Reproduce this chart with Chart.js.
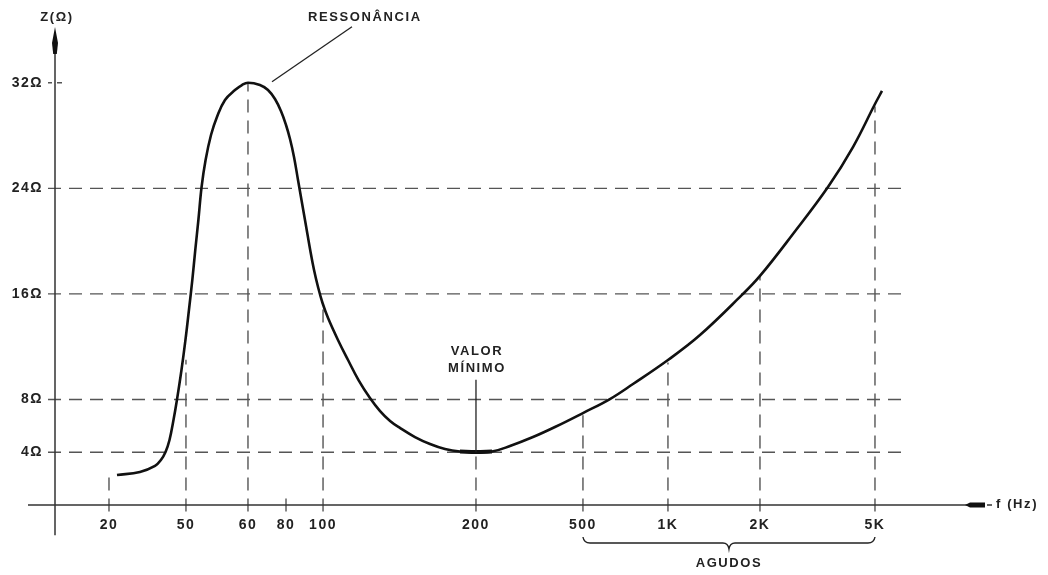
<!DOCTYPE html>
<html>
<head>
<meta charset="utf-8">
<script src="https://cdn.jsdelivr.net/npm/chart.js@4.4.1/dist/chart.umd.min.js"></script>
<style>
  html, body { margin: 0; padding: 0; background: #fff; }
  #wrap { width: 1048px; height: 575px; }
</style>
</head>
<body>
<div id="wrap"><canvas id="zChart"></canvas></div>
<script>
// frequency axis ticks (Hz) and their labels
const freqTicks = [20, 50, 60, 80, 100, 200, 500, 1000, 2000, 5000];
const freqLabels = ['20', '50', '60', '80', '100', '200', '500', '1K', '2K', '5K'];

// impedance axis ticks (ohm)
const zTicks = [4, 8, 16, 24, 32];
const zLabels = ['4Ω', '8Ω', '16Ω', '24Ω', '32Ω'];

// impedance curve
const curveFreq = [22.0, 28.9, 34.6, 37.1, 39.2, 41.1, 43.1, 44.9, 47.4, 49.7,
    50.44, 50.94, 51.39, 51.86, 52.35, 52.97, 53.82, 54.77, 56.08, 57.75, 58.95, 60,
    65.7, 69.8, 73.6, 77.0, 80, 81.95, 83.95, 86.0, 88.1, 90.26, 92.46, 94.72, 97.03,
    99.7, 102.3, 107.0, 112.0, 117.45, 123.7, 129.5, 135.5, 141.7, 151.7, 162.4, 173.8, 186, 200,
    229.4, 267.6, 325.9, 393.4, 500, 623, 752, 1000, 1273, 1746, 2000, 2601, 3438, 4196, 5000, 5287];
const curveZ = [2.27, 2.5, 2.96, 3.41, 4.02, 4.93, 6.44, 7.96, 10.23, 12.51,
    14.78, 17.05, 19.33, 21.6, 24.1, 26.15, 28.04, 29.41, 30.7, 31.45, 31.83, 32.0,
    31.83, 31.45, 30.77, 29.86, 28.8, 27.74, 26.38, 24.63, 22.89, 21.15, 19.4, 17.81, 16.52,
    15.31, 14.17, 12.51, 10.99, 9.47, 8.11, 7.12, 6.37, 5.84, 5.15, 4.62, 4.24, 4.05, 4.02,
    4.05, 4.47, 5.15, 5.91, 6.97, 8.03, 9.17, 10.99, 12.88, 15.92, 17.36, 20.54, 24.1, 27.13, 30.39, 31.38];

// dashed drop lines from the axis up to the curve
const dropFreq = [20, 50, 60, 80, 100, 200, 500, 1000, 2000, 5000];
const dropTop = [2.3, 11.0, 32.0, 0.6, 15.2, 4.0, 6.8, 10.8, 17.4, 30.2];

// dashed horizontal levels
const hLevels = [4, 8, 16, 24];
const hLineEndFreq = 6300;

const resonance = { f: 60, z: 32 };
const minimum = { f: 200, z: 4, labelZ: 9.5, band: [180, 232] };
const trebleBand = [500, 5000];

// the frequency axis of the figure is schematic: each tick has its own slot
const xTickSlots = [0.0592, 0.1436, 0.2116, 0.2533, 0.2939, 0.4616, 0.5789, 0.6721, 0.7730, 0.8991];

function freqToFrac(f) {
    const n = freqTicks.length;
    let i = 0;
    if (f >= freqTicks[n - 1]) i = n - 2;
    else while (i < n - 2 && freqTicks[i + 1] < f) i++;
    const l0 = Math.log10(freqTicks[i]);
    const l1 = Math.log10(freqTicks[i + 1]);
    const t = (Math.log10(f) - l0) / (l1 - l0);
    return xTickSlots[i] + t * (xTickSlots[i + 1] - xTickSlots[i]);
}

class FreqScale extends Chart.LinearScale {
    buildTicks() {
        return freqTicks.map(v => ({ value: v }));
    }
    getPixelForValue(value) {
        return this.getPixelForDecimal(freqToFrac(value));
    }
    getValueForPixel() {
        return 0;
    }
}
FreqScale.id = 'freq';
FreqScale.defaults = Chart.LinearScale.defaults;
Chart.register(FreqScale);

const ink = '#222';
const dashInk = '#555';
const fontFamily = '"Liberation Sans", Arial, sans-serif';
const textFont = 'bold 13px ' + fontFamily;

const curvePoints = curveFreq.map((f, i) => ({ x: f, y: curveZ[i] }));
const minPoints = curvePoints.filter(p => p.x >= minimum.band[0] && p.x <= minimum.band[1]);

const figurePlugin = {
    id: 'figure',
    beforeDraw(chart) {
        chart.ctx.letterSpacing = '1.5px';
    },
    beforeDatasetsDraw(chart) {
        const { ctx, chartArea } = chart;
        const x = chart.scales.x, y = chart.scales.y;
        const left = chartArea.left;
        const y0 = y.getPixelForValue(0);

        ctx.save();
        ctx.strokeStyle = dashInk;
        ctx.lineWidth = 1.4;
        ctx.setLineDash([13, 8]);

        const xEnd = x.getPixelForValue(hLineEndFreq);
        hLevels.forEach(v => {
            const py = y.getPixelForValue(v);
            ctx.beginPath();
            ctx.moveTo(left - 7, py);
            ctx.lineTo(xEnd, py);
            ctx.stroke();
        });

        dropFreq.forEach((f, i) => {
            const px = x.getPixelForValue(f);
            ctx.beginPath();
            ctx.moveTo(px, y.getPixelForValue(-0.5));
            ctx.lineTo(px, y.getPixelForValue(dropTop[i]));
            ctx.stroke();
        });

        // short marks beside the 32 ohm label
        ctx.setLineDash([]);
        const p32 = y.getPixelForValue(32);
        ctx.beginPath();
        ctx.moveTo(left - 7, p32); ctx.lineTo(left - 3, p32);
        ctx.moveTo(left + 2, p32); ctx.lineTo(left + 7, p32);
        ctx.stroke();

        // axes
        ctx.strokeStyle = '#333';
        ctx.fillStyle = '#111';
        ctx.lineWidth = 1.5;
        ctx.beginPath();
        ctx.moveTo(left, y.getPixelForValue(-2.3));
        ctx.lineTo(left, chartArea.top + 20);
        ctx.moveTo(left - 27, y0);
        ctx.lineTo(chartArea.right, y0);
        ctx.stroke();

        // arrow heads
        const top = chartArea.top - 3;
        ctx.beginPath();
        ctx.moveTo(left, top);
        ctx.lineTo(left + 3, top + 16);
        ctx.lineTo(left + 1.8, top + 27);
        ctx.lineTo(left - 1.8, top + 27);
        ctx.lineTo(left - 3, top + 16);
        ctx.closePath();
        ctx.fill();

        const r = chartArea.right;
        ctx.beginPath();
        ctx.moveTo(r - 2, y0);
        ctx.lineTo(r + 3, y0 - 2.6);
        ctx.lineTo(r + 18, y0 - 2.6);
        ctx.lineTo(r + 18, y0 + 2.6);
        ctx.lineTo(r + 3, y0 + 2.6);
        ctx.closePath();
        ctx.fill();
        ctx.beginPath();
        ctx.moveTo(r + 20, y0);
        ctx.lineTo(r + 25, y0);
        ctx.stroke();
        ctx.restore();
    },
    afterDatasetsDraw(chart) {
        const { ctx, chartArea } = chart;
        const x = chart.scales.x, y = chart.scales.y;
        const left = chartArea.left;
        const y0 = y.getPixelForValue(0);

        ctx.save();
        ctx.fillStyle = ink;
        ctx.strokeStyle = ink;
        ctx.font = textFont;
        ctx.textBaseline = 'middle';
        ctx.letterSpacing = '1.6px';

        ctx.textAlign = 'center';
        ctx.fillText('Z(Ω)', left + 2, 17);

        // resonance note
        const rx = x.getPixelForValue(resonance.f);
        const ry = y.getPixelForValue(resonance.z);
        ctx.lineWidth = 1.3;
        ctx.beginPath();
        ctx.moveTo(rx + 24, ry - 1);
        ctx.lineTo(rx + 104, ry - 56);
        ctx.stroke();
        ctx.textAlign = 'left';
        ctx.fillText('RESSONÂNCIA', rx + 60, 17);

        // minimum note
        const mx = x.getPixelForValue(minimum.f);
        const mTop = y.getPixelForValue(minimum.labelZ);
        ctx.beginPath();
        ctx.moveTo(mx, mTop);
        ctx.lineTo(mx, y.getPixelForValue(minimum.z));
        ctx.stroke();
        ctx.textAlign = 'center';
        ctx.fillText('VALOR', mx + 1, mTop - 28);
        ctx.fillText('MÍNIMO', mx + 1, mTop - 11);

        // axis title
        ctx.textAlign = 'left';
        ctx.fillText('f (Hz)', chartArea.right + 29, y0 - 1);

        // treble brace
        const b1 = x.getPixelForValue(trebleBand[0]);
        const b2 = x.getPixelForValue(trebleBand[1]);
        const bm = (b1 + b2) / 2;
        const by = y0 + 38;
        ctx.lineWidth = 1.4;
        ctx.beginPath();
        ctx.moveTo(b1, by - 6);
        ctx.quadraticCurveTo(b1 + 1, by, b1 + 7, by);
        ctx.lineTo(bm - 6, by);
        ctx.quadraticCurveTo(bm - 1, by, bm, by + 6);
        ctx.quadraticCurveTo(bm + 1, by, bm + 6, by);
        ctx.lineTo(b2 - 7, by);
        ctx.quadraticCurveTo(b2 - 1, by, b2, by - 6);
        ctx.stroke();
        ctx.textAlign = 'center';
        ctx.fillText('AGUDOS', bm, by + 20);
        ctx.restore();
    }
};

new Chart(document.getElementById('zChart'), {
    type: 'line',
    data: {
        datasets: [{
            data: curvePoints,
            borderColor: '#111',
            borderWidth: 2.6,
            pointRadius: 0,
            tension: 0.4,
            fill: false
        }, {
            // the flat bottom is inked a little heavier in the figure
            data: minPoints,
            borderColor: '#111',
            borderWidth: 4,
            pointRadius: 0,
            tension: 0.4,
            fill: false
        }]
    },
    options: {
        responsive: true,
        maintainAspectRatio: false,
        devicePixelRatio: 1,
        animation: false,
        events: [],
        layout: { padding: { top: 30, right: 81, bottom: 0, left: 0 } },
        plugins: { legend: { display: false }, tooltip: { enabled: false } },
        scales: {
            x: {
                type: 'freq',
                position: 'bottom',
                grid: { display: false, drawTicks: false },
                border: { display: false },
                afterFit: s => { s.height = 70; },
                ticks: {
                    autoSkip: false,
                    maxRotation: 0,
                    padding: 12,
                    color: ink,
                    font: { family: fontFamily, size: 14, weight: 'bold' },
                    callback: (v, i) => freqLabels[i]
                }
            },
            y: {
                type: 'linear',
                min: 0,
                max: 36,
                grid: { display: false, drawTicks: false },
                border: { display: false },
                afterFit: s => { s.width = 55; },
                afterBuildTicks: s => { s.ticks = zTicks.map(v => ({ value: v })); },
                ticks: {
                    padding: 12,
                    color: ink,
                    font: { family: fontFamily, size: 14, weight: 'bold' },
                    callback: (v, i) => zLabels[i]
                }
            }
        }
    },
    plugins: [figurePlugin]
});
</script>
</body>
</html>
